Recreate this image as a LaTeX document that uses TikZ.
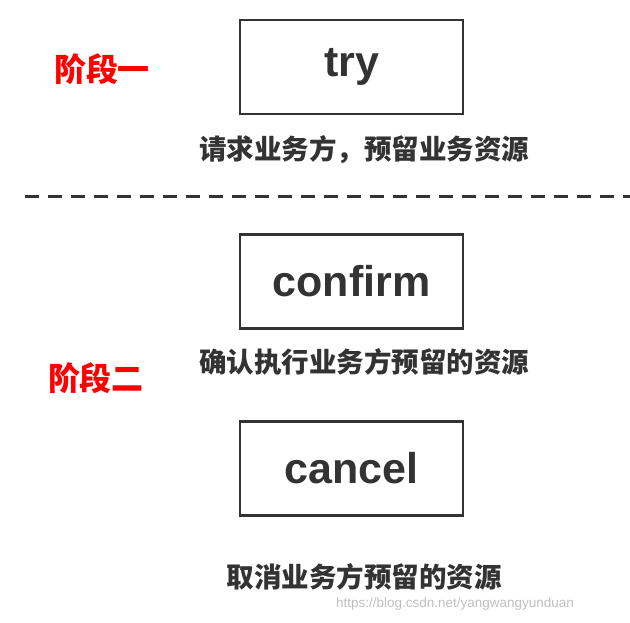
\documentclass[tikz,border=0pt]{standalone}
\usepackage{fontspec}
\setmainfont{Liberation Sans}
\newfontfamily\cjk{Noto Sans CJK SC}
\begin{document}
\begin{tikzpicture}[x=1pt,y=-1pt,
  box/.style={draw=black!80,line width=2.2pt,minimum width=223pt,minimum height=94pt,inner sep=0pt,font=\fontsize{43}{45}\selectfont\bfseries,text=black!80},
  desc/.style={font=\cjk\bfseries\fontsize{27.5}{29}\selectfont,text=black!80},
  stage/.style={font=\cjk\bfseries\fontsize{32}{34}\selectfont,text=red}]
\useasboundingbox (0,0) rectangle (630,623);
\node[box] (try) at (351.5,67) {try};
\node[box] (confirm) at (351.5,281.5) {confirm};
\node[box] (cancel) at (351.5,468.5) {cancel};
\node[desc] (d1) at (364,150) {请求业务方，预留业务资源};
\node[desc] (d2) at (364,362) {确认执行业务方预留的资源};
\node[desc] (d3) at (364,577) {取消业务方预留的资源};
\node[stage] (s1) at (102,69) {阶段一};
\node[stage] (s2) at (96,378) {阶段二};
\coordinate (l1) at (25,197);
\coordinate (l2) at (630,197);
\draw[black!80,line width=3pt,dash pattern=on 14pt off 9pt] (l1) -- (l2);
\node[font=\fontsize{13.5}{14}\selectfont,text=black!25] (wm) at (455,604) {https://blog.csdn.net/yangwangyunduan};
\end{tikzpicture}
\end{document}
